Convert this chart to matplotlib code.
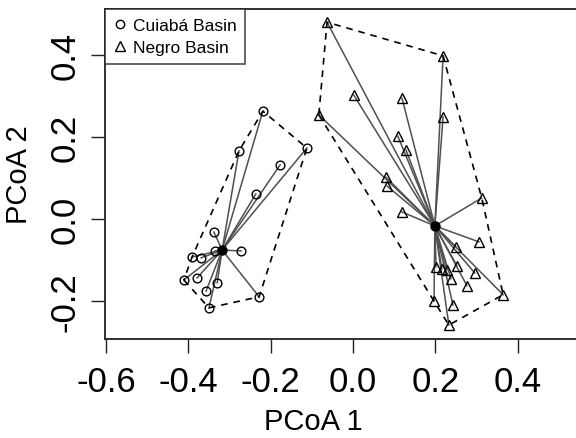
import numpy as np
import matplotlib
matplotlib.use("Agg")
import matplotlib.pyplot as plt
from matplotlib.lines import Line2D

plt.rcParams['font.family'] = ['Liberation Sans', 'DejaVu Sans']

# ---- data (PCoA scores) ----
cuiaba_x = [-0.219, -0.277, -0.112, -0.177, -0.236, -0.338, -0.335, -0.272,
            -0.391, -0.369, -0.411, -0.379, -0.330, -0.357, -0.350, -0.228]
cuiaba_y = [0.263, 0.166, 0.173, 0.132, 0.061, -0.032, -0.078, -0.078,
            -0.093, -0.095, -0.149, -0.144, -0.156, -0.176, -0.217, -0.190]
cuiaba_centroid = (-0.318, -0.076)

negro_x = [-0.063, 0.219, 0.002, 0.119, -0.083, 0.219, 0.109, 0.129, 0.080,
           0.083, 0.313, 0.119, 0.306, 0.250, 0.202, 0.216, 0.228, 0.253,
           0.238, 0.296, 0.277, 0.365, 0.197, 0.243, 0.233]
negro_y = [0.480, 0.398, 0.302, 0.295, 0.254, 0.249, 0.202, 0.168, 0.102,
           0.080, 0.051, 0.017, -0.056, -0.068, -0.117, -0.122, -0.124, -0.115,
           -0.146, -0.132, -0.163, -0.185, -0.200, -0.210, -0.259]
negro_centroid = (0.199, -0.017)

groups = ['Cuiabá Basin', 'Negro Basin']


def hull(xs, ys):
    # monotone chain convex hull
    pts = sorted(set(zip(xs, ys)))

    def cross(o, a, b):
        return (a[0] - o[0]) * (b[1] - o[1]) - (a[1] - o[1]) * (b[0] - o[0])
    lower, upper = [], []
    for p in pts:
        while len(lower) >= 2 and cross(lower[-2], lower[-1], p) <= 0:
            lower.pop()
        lower.append(p)
    for p in reversed(pts):
        while len(upper) >= 2 and cross(upper[-2], upper[-1], p) <= 0:
            upper.pop()
        upper.append(p)
    h = lower[:-1] + upper[:-1]
    h.append(h[0])
    return [p[0] for p in h], [p[1] for p in h]


fig = plt.figure(figsize=(5.76, 4.39), dpi=100)
ax = fig.add_axes([0.182, 0.2255, 0.828, 0.7515])

spoke_col = '#505050'
for xs, ys, cen, mk, ms in [(cuiaba_x, cuiaba_y, cuiaba_centroid, 'o', 6.3),
                            (negro_x, negro_y, negro_centroid, '^', 7.8)]:
    for px, py in zip(xs, ys):
        ax.plot([cen[0], px], [cen[1], py], color=spoke_col, lw=1.1, zorder=2)
    hx, hy = hull(xs, ys)
    ax.plot(hx, hy, color='black', lw=1.2, ls=(0, (4, 3.5)), zorder=2)
    ax.plot(xs, ys, ls='none', marker=mk, ms=ms, mfc='none', mec='black',
            mew=1.0, zorder=3)
    ax.plot(cen[0], cen[1], ls='none', marker='o', ms=6.5, color='black', zorder=4)

ax.set_xlim(-0.603, 0.556)
ax.set_ylim(-0.293, 0.512)

ax.set_xticks([-0.6, -0.4, -0.2, 0.0, 0.2, 0.4])
ax.set_xticklabels(['-0.6', '-0.4', '-0.2', '0.0', '0.2', '0.4'])
ax.set_yticks([-0.2, 0.0, 0.2, 0.4])
ax.set_yticklabels(['-0.2', '0.0', '0.2', '0.4'])
ax.tick_params(axis='both', direction='out', length=10, width=1.0,
               labelsize=25, color='#222222')
ax.tick_params(axis='x', pad=9)
ax.tick_params(axis='y', pad=7)
for lab in ax.get_yticklabels():
    lab.set_rotation(90)
    lab.set_va('center')

for s in ax.spines.values():
    s.set_linewidth(1.3)
    s.set_color('#222222')

fig.text(313 / 576, 1 - 422 / 439, 'PCoA 1', fontsize=21, ha='center', va='center')
fig.text(19 / 576, 1 - 175 / 439, 'PCoA 2', fontsize=21, ha='center', va='center',
         rotation=90)

handles = [Line2D([], [], ls='none', marker='o', ms=6, mfc='none', mec='black', mew=1.0),
           Line2D([], [], ls='none', marker='^', ms=7, mfc='none', mec='black', mew=1.0)]
leg = ax.legend(handles, groups, loc='upper left', bbox_to_anchor=(0, 1),
                borderaxespad=0, fontsize=12.5, frameon=True, fancybox=False,
                handlelength=0.8, handletextpad=0.3, borderpad=0.5,
                labelspacing=0.4)
leg.get_frame().set_edgecolor('#222222')
leg.get_frame().set_linewidth(1.2)

fig.savefig('out.png', dpi=100)
